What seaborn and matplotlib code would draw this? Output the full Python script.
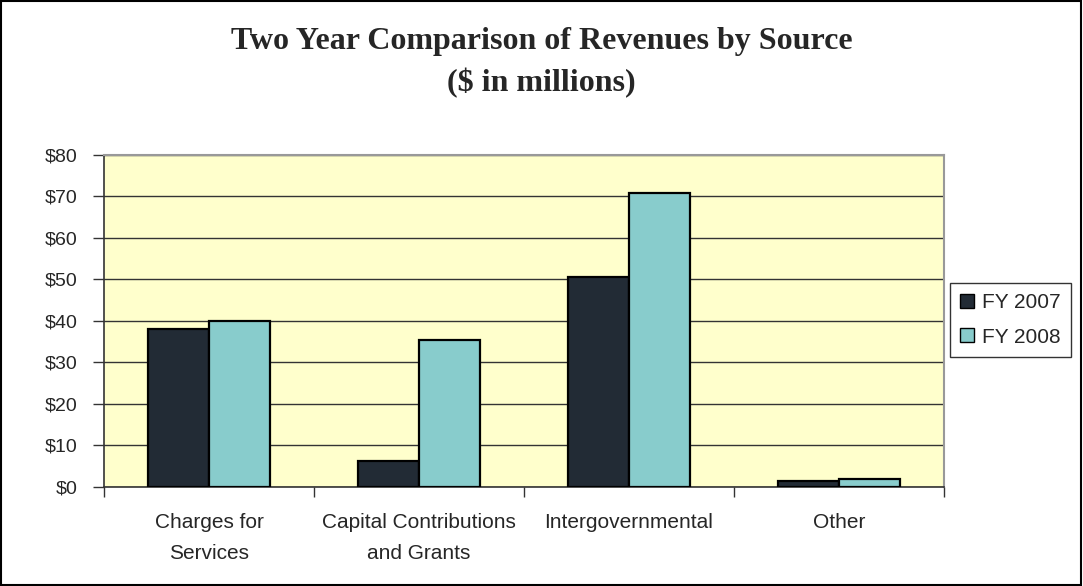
import pandas as pd
import matplotlib.pyplot as plt
import seaborn as sns
from matplotlib.patches import Patch, Rectangle

# Data ($ in millions)
categories = ["Charges for\nServices", "Capital Contributions\nand Grants", "Intergovernmental", "Other"]
fy2007 = [38.0, 6.3, 50.7, 1.4]
fy2008 = [40.0, 35.5, 70.8, 1.8]
years = ["FY 2007", "FY 2008"]
colors = ["#222B35", "#88CCCC"]

df = pd.DataFrame({
    "source": categories * 2,
    "year": [years[0]] * 4 + [years[1]] * 4,
    "value": fy2007 + fy2008,
})

sns.set_style("white")
plt.rcParams["font.family"] = ["Liberation Sans", "DejaVu Sans"]

fig = plt.figure(figsize=(10.83, 5.86), dpi=100)
ax = fig.add_axes([0.096, 0.169, 0.7757, 0.5665])
ax.set_facecolor("#FFFFCC")

sns.barplot(data=df, x="source", y="value", hue="year", palette=colors,
            width=0.58, edgecolor="black", linewidth=1.6, saturation=1,
            ax=ax, zorder=3)

# axes styling
ax.set_ylim(0, 80)
ax.set_xlim(-0.5, 3.5)
ax.set_yticks(range(0, 81, 10))
ax.set_yticklabels([f"${v}" for v in range(0, 81, 10)], fontsize=14)
ax.yaxis.grid(True, color="#333333", linewidth=1, zorder=0)
ax.set_axisbelow(True)
ax.set_xlabel("")
ax.set_ylabel("")

# category boundary ticks on x axis
ax.set_xticks([-0.5, 0.5, 1.5, 2.5, 3.5], minor=False)
ax.set_xticklabels([])
ax.set_xticks(range(4), minor=True)
ax.set_xticklabels(categories, minor=True, fontsize=15, linespacing=1.75)
ax.tick_params(axis="x", which="major", direction="out", length=7, width=1, color="#333333", bottom=True)
ax.tick_params(axis="x", which="minor", length=0, pad=19)
ax.tick_params(axis="y", direction="out", length=8, width=1, color="#333333", left=True, pad=11)

for side in ["left", "bottom"]:
    ax.spines[side].set_color("#333333")
    ax.spines[side].set_linewidth(1.2)
for side in ["top", "right"]:
    ax.spines[side].set_color("#999999")
    ax.spines[side].set_linewidth(1.5)

# title
fig.text(0.5, 0.93, "Two Year Comparison of Revenues by Source", ha="center", va="center",
         fontsize=23, fontweight="bold", family=["Liberation Serif", "DejaVu Serif"])
fig.text(0.5, 0.858, "($ in millions)", ha="center", va="center",
         fontsize=23, fontweight="bold", family=["Liberation Serif", "DejaVu Serif"])

# legend
ax.get_legend().remove()
handles = [Patch(facecolor=c, edgecolor="black", linewidth=1) for c in colors]
leg = fig.legend(handles, years, loc="center left", bbox_to_anchor=(0.877, 0.454),
                 bbox_transform=fig.transFigure, fontsize=15, frameon=True, fancybox=False,
                 handlelength=0.65, handleheight=0.65, handletextpad=0.4, labelspacing=0.75,
                 borderpad=0.5, borderaxespad=0)
leg.get_frame().set_edgecolor("black")
leg.get_frame().set_linewidth(1)

# figure border
fig.patches.append(Rectangle((0.001, 0.002), 0.997, 0.996, transform=fig.transFigure,
                             fill=False, edgecolor="black", linewidth=1.5))

fig.savefig("out.png", dpi=100)
